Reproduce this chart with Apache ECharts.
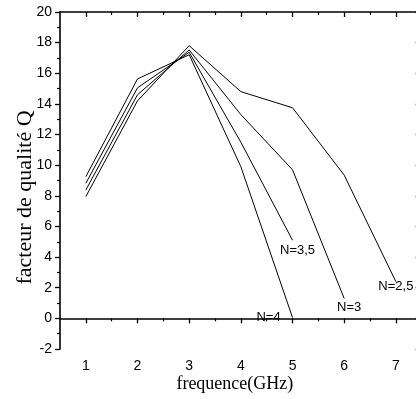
<!DOCTYPE html>
<html>
<head>
<meta charset="utf-8">
<script src="https://cdn.jsdelivr.net/npm/echarts@6/dist/echarts.min.js"></script>
<style>html,body{margin:0;padding:0;background:#fff}#c{width:416px;height:399px}</style>
</head>
<body>
<div id="c"></div>
<script>
const freq = [1, 2, 3, 4, 5, 6, 7];
const seriesNames = ['N=2,5', 'N=3', 'N=3,5', 'N=4'];
const qN25 = [7.95, 14.2, 17.8, 14.8, 13.75, 9.35, 2.4];
const qN3  = [8.38, 14.6, 17.52, 13.3, 9.7, 1.3];
const qN35 = [8.82, 15.05, 17.37, 11.5, 5.1];
const qN4  = [9.25, 15.63, 17.21, 9.9, 0.05];
const xMajorTicks = [1, 2, 3, 4, 5, 6, 7];
const xMinorTicks = [1.5, 2.5, 3.5, 4.5, 5.5, 6.5];
const xName = 'frequence(GHz)';
const yName = 'facteur de qualité Q';

const labelPos = [[0, 5], [5, 9], [5, 10], [-24, 0]];
const allData = [qN25, qN3, qN35, qN4];

const series = allData.map((vals, si) => ({
  type: 'line',
  name: seriesNames[si],
  xAxisIndex: 0, yAxisIndex: 0,
  symbol: 'circle', symbolSize: 0.01, showSymbol: true,
  lineStyle: { color: '#000', width: 1 },
  itemStyle: { color: '#000' },
  emphasis: { disabled: true },
  animation: false,
  data: vals.map((v, i) => {
    const d = { value: [freq[i], v] };
    if (i === vals.length - 1) {
      d.label = {
        show: true, formatter: seriesNames[si],
        position: labelPos[si], align: 'center', verticalAlign: 'middle',
        fontFamily: 'Liberation Sans, Arial', fontSize: 13, color: '#000'
      };
    }
    return d;
  })
}));

const axLine = { show: true, lineStyle: { color: '#000', width: 1.6 } };
const xBase = { type: 'value', min: 0.5, max: 7.5, gridIndex: 0, splitLine: { show: false } };
const yBase = { type: 'value', min: -2, max: 20, interval: 2, splitLine: { show: false } };

const chart = echarts.init(document.getElementById('c'), null, { renderer: 'canvas' });
chart.setOption({
  animation: false,
  backgroundColor: '#fff',
  grid: { left: 60, top: 12, width: 361.7, height: 337, containLabel: false, outerBoundsMode: 'none' },
  xAxis: [
    Object.assign({}, xBase, {
      position: 'bottom', axisLine: axLine,
      axisTick: { show: true, inside: false, length: 5, customValues: xMajorTicks, lineStyle: { color: '#000', width: 1.3 } },
      axisLabel: { show: true, customValues: xMajorTicks, margin: 10, color: '#000', fontSize: 14, fontFamily: 'Liberation Sans, Arial' },
      name: xName, nameLocation: 'middle', nameGap: 26, nameMoveOverlap: false,
      nameTextStyle: { fontFamily: 'Liberation Serif, Times New Roman', fontSize: 18, color: '#000', padding: [0, 12, 0, 0] }
    }),
    Object.assign({}, xBase, {
      position: 'bottom', axisLine: { show: false }, axisLabel: { show: false },
      axisTick: { show: true, inside: false, length: 3, customValues: xMinorTicks, lineStyle: { color: '#000', width: 1.2 } }
    }),
    Object.assign({}, xBase, {
      position: 'top', axisLine: axLine, axisLabel: { show: false },
      axisTick: { show: true, inside: true, length: 5, customValues: xMajorTicks, lineStyle: { color: '#000', width: 1.3 } }
    }),
    Object.assign({}, xBase, {
      position: 'top', axisLine: { show: false }, axisLabel: { show: false },
      axisTick: { show: true, inside: true, length: 3, customValues: xMinorTicks, lineStyle: { color: '#000', width: 1.2 } }
    })
  ],
  yAxis: [
    Object.assign({}, yBase, {
      position: 'left', axisLine: axLine,
      axisTick: { show: true, inside: false, length: 5, lineStyle: { color: '#000', width: 1.3 } },
      minorTick: { show: true, splitNumber: 2, length: 3, lineStyle: { color: '#000', width: 1.2 } },
      axisLabel: { show: true, margin: 8, color: '#000', fontSize: 14, fontFamily: 'Liberation Sans, Arial' },
      name: yName, nameLocation: 'middle', nameGap: 24, nameRotate: 90, nameMoveOverlap: false,
      nameTextStyle: { fontFamily: 'Liberation Serif, Times New Roman', fontSize: 22, color: '#000', padding: [0, 34, 0, 0] }
    }),
    Object.assign({}, yBase, {
      position: 'right', axisLine: axLine, axisLabel: { show: false },
      axisTick: { show: true, inside: true, length: 6, lineStyle: { color: '#000', width: 1.3 } },
      minorTick: { show: true, splitNumber: 2, length: 3, lineStyle: { color: '#000', width: 1.2 } }
    })
  ],
  series: series
});
</script>
</body>
</html>
